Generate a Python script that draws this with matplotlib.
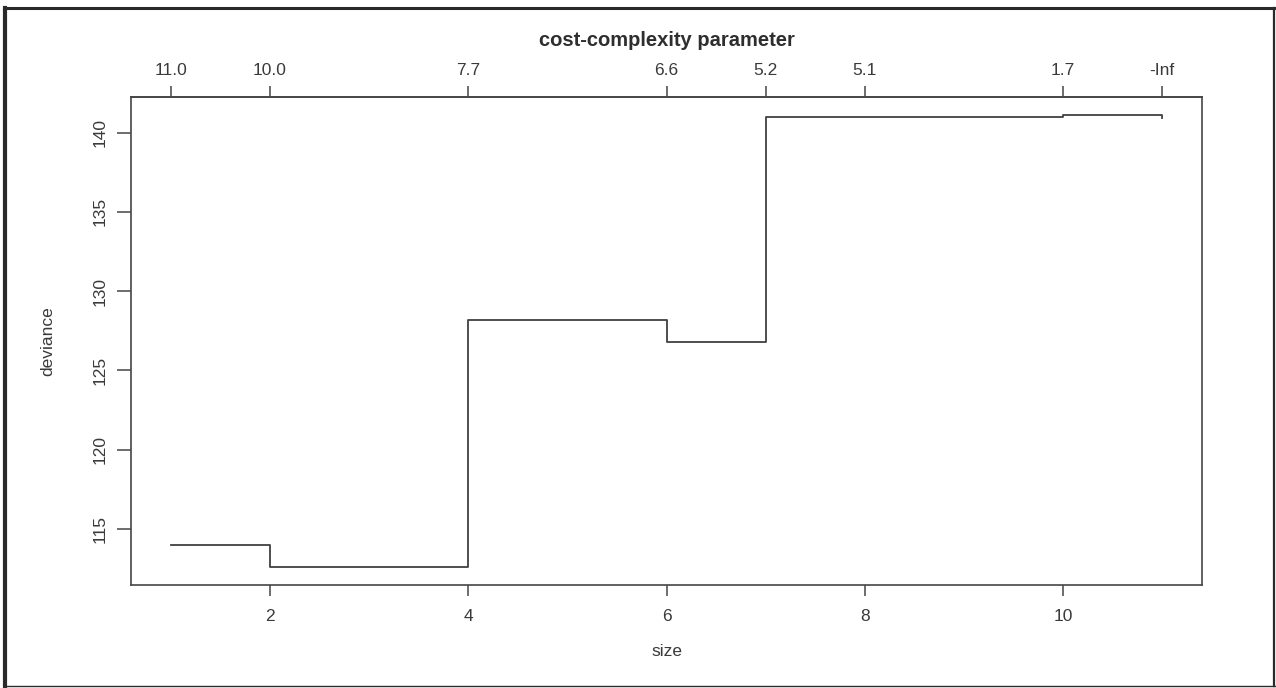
import matplotlib
matplotlib.use("Agg")
import matplotlib.pyplot as plt
from matplotlib.lines import Line2D

# tree size, cross-validated deviance and cost-complexity k per pruning step
sizes = [1, 2, 4, 6, 7, 8, 10, 11]
deviance = [114.0, 112.6, 128.2, 126.8, 141.0, 141.0, 141.1, 140.9]
k_labels = ["11.0", "10.0", "7.7", "6.6", "5.2", "5.1", "1.7", "-Inf"]

x_ticks = [2, 4, 6, 8, 10]
y_ticks = [115, 120, 125, 130, 135, 140]

plt.rcParams["font.family"] = ["Liberation Sans", "DejaVu Sans"]
ink = "#3a3a3a"

W, H = 1276, 688
fig = plt.figure(figsize=(W / 100, H / 100), dpi=100)
left, right, top, bottom = 131, 1202, 97, 585
ax = fig.add_axes([left / W, 1 - bottom / H, (right - left) / W, (bottom - top) / H])

ax.step(sizes, deviance, where="post", color="#404040", lw=1.3)

# R-style 4% axis expansion
lo, hi = min(sizes), max(sizes)
pad = 0.04 * (hi - lo)
ax.set_xlim(lo - pad, hi + pad)
lo, hi = min(deviance), max(deviance)
pad = 0.04 * (hi - lo)
ax.set_ylim(lo - pad, hi + pad)

for s in ax.spines.values():
    s.set_color("#454545")
    s.set_linewidth(1.2)

ax.set_xticks(x_ticks)
ax.set_yticks(y_ticks)
ax.set_yticklabels([str(v) for v in y_ticks], rotation=90, va="center")
ax.tick_params(axis="x", length=8, width=1.1, color="#454545", pad=9,
               labelsize=12.5, labelcolor=ink)
ax.tick_params(axis="y", length=10, width=1.1, color="#454545", pad=7,
               labelsize=12.5, labelcolor=ink)

top_ax = ax.secondary_xaxis("top")
top_ax.set_xticks(sizes)
top_ax.set_xticklabels(k_labels)
top_ax.tick_params(length=8, width=1.1, color="#454545", pad=6,
                   labelsize=12.5, labelcolor=ink)
top_ax.spines["top"].set_color("#454545")
top_ax.spines["top"].set_linewidth(1.2)

ax.set_xlabel("size", fontsize=12.5, color=ink, va="center")
ax.xaxis.set_label_coords(0.5, (bottom - 651) / (bottom - top))
ax.set_ylabel("deviance", fontsize=12.5, color=ink, va="center")
ax.yaxis.set_label_coords((48 - left) / (right - left), 0.5)
ax.text(0.5, (bottom - 41) / (bottom - top), "cost-complexity parameter",
        transform=ax.transAxes, ha="center", va="center",
        fontsize=14.5, color="#2e2e2e", fontweight="bold")

# page frame around the figure
frame = dict(transform=fig.transFigure, color="#2a2a2a")
fig.add_artist(Line2D([5 / W, 5 / W], [1 - 8 / H, 1 - 686 / H], lw=3, **frame))
fig.add_artist(Line2D([5 / W, 1275 / W], [1 - 8 / H, 1 - 8 / H], lw=2.2, **frame))
fig.add_artist(Line2D([1274 / W, 1274 / W], [1 - 8 / H, 1 - 686 / H], lw=1.6, **frame))
fig.add_artist(Line2D([5 / W, 1275 / W], [1 - 686 / H, 1 - 686 / H], lw=1.0, **frame))

fig.savefig("out.png", dpi=100, facecolor="white")
